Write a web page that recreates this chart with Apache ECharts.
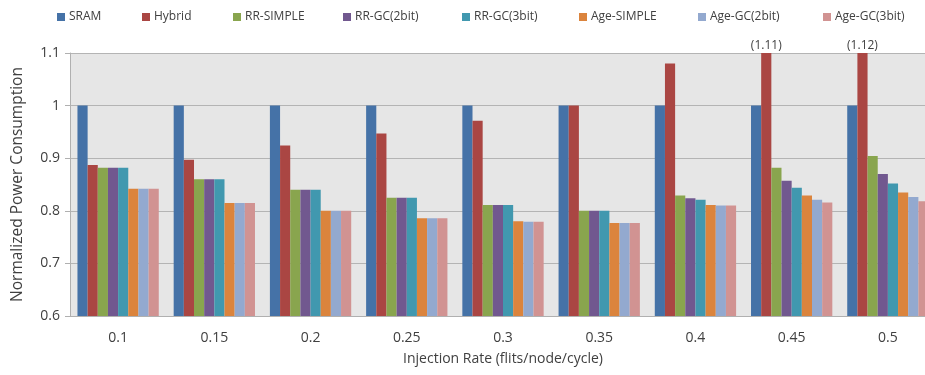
<!DOCTYPE html>
<html><head><meta charset="utf-8">
<script src="https://cdn.jsdelivr.net/npm/echarts@6/dist/echarts.min.js"></script>
<style>html,body{margin:0;padding:0;background:#fff;overflow:hidden;width:925px;height:375px}#c{width:940px;height:375px}</style>
</head><body><div id="c"></div>
<script>
const categories = ['0.1','0.15','0.2','0.25','0.3','0.35','0.4','0.45','0.5'];
const seriesNames = ['SRAM','Hybrid','RR-SIMPLE','RR-GC(2bit)','RR-GC(3bit)','Age-SIMPLE','Age-GC(2bit)','Age-GC(3bit)'];
const sram      = [1,1,1,1,1,1,1,1,1];
const hybrid    = [0.887,0.897,0.924,0.947,0.971,1.0,1.08,1.11,1.12];
const rrSimple  = [0.882,0.86,0.84,0.825,0.811,0.8,0.829,0.882,0.904];
const rrGc2     = [0.882,0.86,0.84,0.825,0.811,0.8,0.824,0.857,0.870];
const rrGc3     = [0.882,0.86,0.84,0.825,0.811,0.8,0.821,0.844,0.852];
const ageSimple = [0.842,0.815,0.8,0.786,0.78,0.777,0.811,0.829,0.835];
const ageGc2    = [0.842,0.815,0.8,0.786,0.779,0.777,0.81,0.821,0.826];
const ageGc3    = [0.842,0.815,0.8,0.786,0.779,0.777,0.81,0.816,0.818];
const yTicks = [0.6,0.7,0.8,0.9,1,1.1];
const colors = ['#4572a7','#aa4643','#89a54e','#71588f','#4198af','#db843d','#93a9cf','#d19392'];
const legendLeft = [57,142,233,343,462,579,698,823];
const allData = [sram,hybrid,rrSimple,rrGc2,rrGc3,ageSimple,ageGc2,ageGc3];
const yMax = yTicks[yTicks.length-1];
const txt = '#404040';

const chart = echarts.init(document.getElementById('c'));
const series = seriesNames.map((n,i)=>({
  name:n, type:'bar', barGap:'0%', barCategoryGap:'15.5%',
  itemStyle:{color:colors[i]},
  data: allData[i].map(v=> v>yMax ? {value:v, label:{show:true, position:'top', distance:1,
      formatter:'('+v.toFixed(2)+')', color:txt, fontSize:12, fontFamily:'Open Sans'}} : v),
  clip:true
}));
const legends = seriesNames.map((n,i)=>({
  top:11, left:legendLeft[i], padding:0, itemWidth:8, itemHeight:8, itemGap:0, icon:'rect',
  textStyle:{fontSize:12, color:txt, fontFamily:'Open Sans', padding:[0,0,0,-1]}, data:[n]
}));
chart.setOption({
  animation:false,
  color:colors,
  legend:legends,
  grid:{left:70, top:53, width:866, height:263, containLabel:false, show:true, backgroundColor:'#e6e6e6', borderWidth:0},
  xAxis:{type:'category', data:categories,
    name:'Injection Rate (flits/node/cycle)', nameLocation:'middle', nameGap:36,
    nameTextStyle:{fontSize:14, color:txt, fontFamily:'Open Sans'},
    axisLine:{lineStyle:{color:'#b0b0b0'}}, axisTick:{length:5, lineStyle:{color:'#b0b0b0'}},
    axisLabel:{fontSize:14, color:txt, margin:15, fontFamily:'Open Sans'}},
  yAxis:{type:'value', min:0.6, max:1.1, interval:0.1,
    name:'Normalized Power Consumption', nameLocation:'middle', nameGap:44,
    nameTextStyle:{fontSize:15.5, color:txt, fontFamily:'Open Sans'},
    axisLine:{show:true, lineStyle:{color:'#b0b0b0'}}, axisTick:{show:true, length:5, lineStyle:{color:'#b0b0b0'}},
    splitLine:{lineStyle:{color:'#b4b4b4'}},
    axisLabel:{fontSize:14, color:txt, margin:10, fontFamily:'Open Sans'}},
  series
});
</script></body></html>
